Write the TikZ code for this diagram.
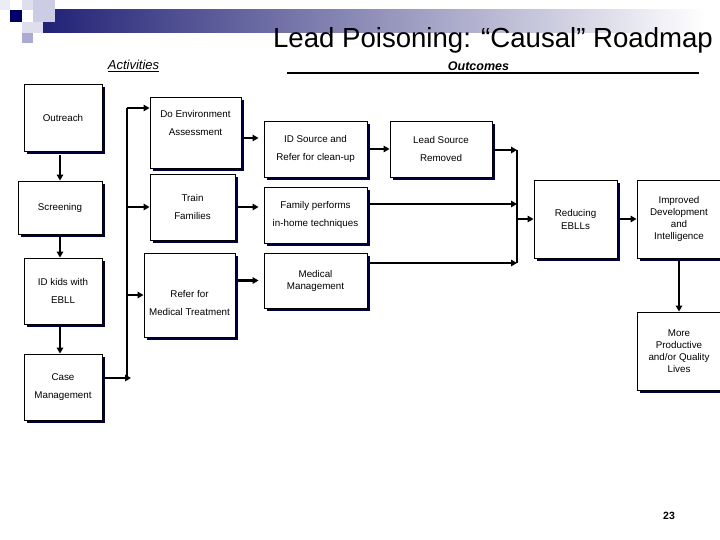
\documentclass[tikz,border=0pt]{standalone}
\usepackage{fontspec}
\setmainfont{Liberation Sans}
\usetikzlibrary{arrows.meta,positioning,shadows}
\definecolor{navy}{RGB}{0,0,64}
\definecolor{barblue}{RGB}{34,34,118}
\definecolor{lav1}{RGB}{236,236,246}
\definecolor{lav2}{RGB}{204,204,228}
\definecolor{lav3}{RGB}{222,222,238}
\definecolor{lav4}{RGB}{170,170,210}

\begin{document}
\begin{tikzpicture}[x=1pt,y=-1pt,
  box/.style={draw=black,line width=0.9pt,fill=white,align=center,inner sep=1pt,
    font=\fontsize{9.8}{18}\selectfont,
    general shadow={fill=navy,shadow xshift=3.2pt,shadow yshift=-3.2pt}},
  boxtxt/.style={align=center,font=\fontsize{9.8}{18}\selectfont},
  tight/.style={font=\fontsize{9.8}{12}\selectfont},
  arr/.style={line width=2.2pt,-{Triangle[length=6pt,width=6.5pt]}},
  short/.style={shorten <=2pt,shorten >=5pt},
  bus/.style={line width=1.5pt}]
\useasboundingbox (0,0) rectangle (720,540);
\fill[white] (0,0) rectangle (720,540);

% header
\shade[left color=barblue,right color=white] (43,10) rectangle (705,33);
\fill[lav1] (0,0) rectangle (10,10);
\fill[navy!80!blue] (10,10) rectangle (22,22);
\fill[lav3] (22,0) rectangle (33,10);
\fill[lav2] (33,0) rectangle (55,22);
\fill[lav3] (22,22) rectangle (43,33);
\fill[lav4] (22,33) rectangle (33,43);
\node[font=\fontsize{27.6}{32}\selectfont,anchor=base] (title) at (493,48) {Lead Poisoning: “Causal” Roadmap};

\node[font=\itshape\fontsize{13}{15}\selectfont,anchor=base] (activities) at (133.5,70) {\underline{Activities}};
\node[font=\bfseries\itshape\fontsize{12.5}{15}\selectfont,anchor=base] (outcomes) at (478.5,71) {Outcomes};
\draw[line width=2pt] (287,73.5) -- (699,73.5);

\node[box,minimum width=78pt,minimum height=67pt] (outreach) at (63,117.5) {Outreach};
\node[box,minimum width=84pt,minimum height=53pt] (screening) at (60,207.5) {Screening};
\node[box,minimum width=78pt,minimum height=66pt] (idkids) at (63,291) {ID kids with\\EBLL};
\node[box,minimum width=78pt,minimum height=66pt] (casemgmt) at (63,387) {Case\\Management};

\node[box,minimum width=91pt,minimum height=71pt,
  label={[boxtxt,yshift=9.5pt]center:{Do Environment\\Assessment}}] (envassess) at (195.5,132.5) {};
\node[box,minimum width=85pt,minimum height=66pt] (train) at (192.5,207) {Train\\Families};
\node[box,minimum width=91pt,minimum height=84pt,
  label={[boxtxt,yshift=-8pt]center:{Refer for\\Medical Treatment}}] (refer) at (189.5,295) {};

\node[box,minimum width=103pt,minimum height=56pt] (idsource) at (315.5,149) {ID Source and\\Refer for clean-up};
\node[box,minimum width=103pt,minimum height=56pt] (family) at (315.5,215) {Family performs\\in-home techniques};
\node[box,tight,minimum width=103pt,minimum height=55pt] (medical) at (315.5,280.5) {Medical\\Management};
\node[box,minimum width=102pt,minimum height=56pt] (leadsrc) at (441,149) {Lead Source\\Removed};

\node[box,font=\fontsize{9.8}{13}\selectfont,minimum width=83pt,minimum height=78pt] (reducing) at (575.5,219) {Reducing\\EBLLs};
\node[box,tight,minimum width=84pt,minimum height=78pt] (improved) at (679,219) {Improved\\Development\\and\\Intelligence};
\node[box,tight,minimum width=84pt,minimum height=78pt] (more) at (679,351) {More\\Productive\\and/or Quality\\Lives};

% activities column
\draw[arr,shorten <=4pt] (outreach.south -| screening.north) -- (screening.north);
\draw[arr,shorten <=3pt] (screening.south) -- (screening.south |- idkids.north);
\draw[arr,shorten <=3pt] (idkids.south -| screening.south) -- (casemgmt.north -| screening.south);

\coordinate (bus1top) at (127,108);
\coordinate (bus1bot) at (127,378);
\draw[bus] (bus1top) -- (bus1bot);
\draw[arr] (bus1top) -- (bus1top -| envassess.west);
\draw[arr] (train.west -| bus1top) -- (train.west);
\draw[arr] (refer.west -| bus1top) -- (refer.west);
\draw[arr,shorten <=3pt] (casemgmt.east |- bus1bot) -- ([xshift=4pt]bus1bot);

% outcomes
\draw[arr,short] ([yshift=-5.5pt]envassess.east) -- ([yshift=-5.5pt]envassess.east -| idsource.west);
\draw[arr,short] (train.east) -- (train.east -| family.west);
\draw[arr,short] (medical.west -| refer.east) -- (medical.west);
\draw[arr,shorten <=3pt] (idsource.east) -- (leadsrc.west);

\coordinate (bus2top) at (517,150);
\coordinate (bus2bot) at (517,263);
\draw[bus] (bus2top) -- (bus2bot);
\draw[arr,shorten <=3pt] (leadsrc.east |- bus2top) -- (bus2top);
\draw[arr,shorten <=3pt] ([yshift=11pt]family.east) -- ([yshift=11pt]family.east -| bus2top);
\draw[arr,shorten <=3pt] (medical.east |- bus2bot) -- (bus2bot);
\draw[arr] (reducing.west -| bus2top) -- (reducing.west);
\draw[arr,shorten <=3pt] (reducing.east) -- (improved.west);
\draw[arr,shorten <=3pt] (improved.south) -- (more.north);

\node[font=\bfseries\fontsize{10.5}{12}\selectfont] (pagenum) at (669,516) {23};
\end{tikzpicture}
\end{document}
